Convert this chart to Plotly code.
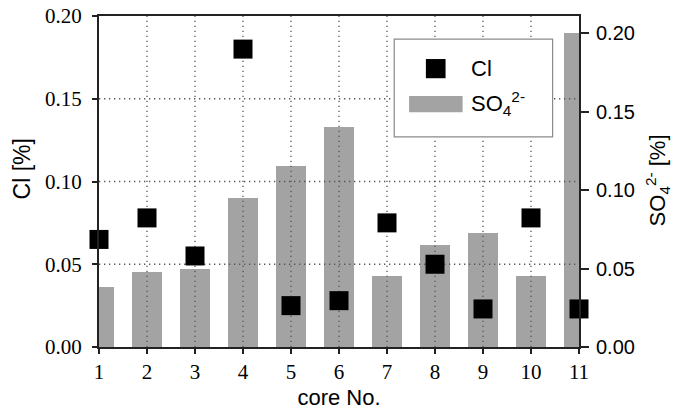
import plotly.graph_objects as go

cores = [1, 2, 3, 4, 5, 6, 7, 8, 9, 10, 11]
cl_values = [0.065, 0.078, 0.055, 0.180, 0.025, 0.028, 0.075, 0.050, 0.023, 0.078, 0.023]
so4_values = [0.038, 0.048, 0.050, 0.095, 0.1155, 0.140, 0.045, 0.065, 0.073, 0.045, 0.200]
x_ticks = [1, 2, 3, 4, 5, 6, 7, 8, 9, 10, 11]
left_ticks = [0.00, 0.05, 0.10, 0.15, 0.20]
right_ticks = [0.00, 0.05, 0.10, 0.15, 0.20]

SERIF = "Liberation Serif, Times New Roman, serif"
SANS = "Liberation Sans, Arial, sans-serif"
AXCOL = "#222222"
GRIDCOL = "#555555"

fig = go.Figure()

# SO4 bars on primary axis (placed on right side)
fig.add_trace(go.Bar(
    x=cores, y=so4_values, yaxis="y", width=0.61,
    marker=dict(color="#a3a3a3", line=dict(width=0)),
    showlegend=False, name="SO4",
))

# grid lines (drawn above bars, below markers), from tick values
inner_x = x_ticks[1:-1]
gx, gy = [], []
for xv in inner_x:
    gx += [xv, xv, None]
    gy += [left_ticks[0], left_ticks[-1], None]
fig.add_trace(go.Scatter(x=gx, y=gy, yaxis="y2", mode="lines",
                         line=dict(color=GRIDCOL, width=1.3, dash="1.3px,3.7px"),
                         hoverinfo="skip", showlegend=False))
hx, hy = [], []
for yv in left_ticks[1:-1]:
    hx += [x_ticks[0], x_ticks[-1], None]
    hy += [yv, yv, None]
fig.add_trace(go.Scatter(x=hx, y=hy, yaxis="y2", mode="lines",
                         line=dict(color=GRIDCOL, width=1.3, dash="1.3px,3.7px"),
                         hoverinfo="skip", showlegend=False))

# Cl markers on secondary axis (placed on left side)
fig.add_trace(go.Scatter(
    x=cores, y=cl_values, yaxis="y2", mode="markers",
    marker=dict(symbol="square", size=19, color="black", line=dict(width=0)),
    cliponaxis=False, showlegend=False, name="Cl",
))

# manual legend
shapes = [
    dict(type="rect", xref="paper", yref="paper", x0=0.615, x1=0.945, y0=0.635, y1=0.930,
         fillcolor="white", line=dict(color="#8a8a8a", width=1.2), layer="above"),
    dict(type="rect", xref="paper", yref="paper", x0=0.681, x1=0.722, y0=0.812, y1=0.870,
         fillcolor="black", line=dict(width=0), layer="above"),
    dict(type="rect", xref="paper", yref="paper", x0=0.646, x1=0.7575, y0=0.709, y1=0.758,
         fillcolor="#a3a3a3", line=dict(width=0), layer="above"),
]
annotations = [
    dict(xref="paper", yref="paper", x=0.771, y=0.840, xanchor="left", yanchor="middle",
         text="Cl", showarrow=False, font=dict(family=SANS, size=22, color="black")),
    dict(xref="paper", yref="paper", x=0.771, y=0.735, xanchor="left", yanchor="middle",
         text="SO<sub>4</sub><sup>2-</sup>", showarrow=False,
         font=dict(family=SANS, size=22, color="black")),
    # axis titles
    dict(xref="paper", yref="paper", x=-0.160, y=0.537, xanchor="center", yanchor="middle",
         textangle=-90, text="Cl [%]", showarrow=False,
         font=dict(family=SANS, size=23, color="black")),
    dict(xref="paper", yref="paper", x=1.163, y=0.504, xanchor="center", yanchor="middle",
         textangle=-90, text="SO<sub>4</sub><sup>2-</sup> [%]", showarrow=False,
         font=dict(family=SANS, size=22, color="black")),
]

fig.update_layout(
    width=673, height=411,
    margin=dict(l=99, r=94, t=16, b=64.3, autoexpand=False),
    paper_bgcolor="white", plot_bgcolor="white",
    bargap=0,
    shapes=shapes, annotations=annotations,
    xaxis=dict(
        range=[1, 11], tickvals=x_ticks, ticktext=[str(v) for v in x_ticks],
        showgrid=False, zeroline=False,
        showline=True, linecolor=AXCOL, linewidth=2, mirror=True,
        ticks="outside", ticklen=5, tickwidth=1.5, tickcolor=AXCOL,
        tickfont=dict(family=SERIF, size=21, color="black"),
        title=dict(text="core No.", font=dict(family=SANS, size=22, color="black"), standoff=6),
    ),
    yaxis=dict(
        side="right", range=[0, 0.2111], tickvals=right_ticks,
        ticktext=["%.2f" % v for v in right_ticks],
        showgrid=False, zeroline=False,
        showline=True, linecolor=AXCOL, linewidth=2,
        ticks="outside", ticklen=8, tickwidth=1.5, tickcolor=AXCOL,
        ticklabelstandoff=3,
        tickfont=dict(family=SANS, size=20, color="black"),
    ),
    yaxis2=dict(
        overlaying="y", side="left", range=[0, 0.2], tickvals=left_ticks,
        ticktext=["%.2f" % v for v in left_ticks],
        showgrid=False, zeroline=False,
        showline=True, linecolor=AXCOL, linewidth=2,
        ticks="outside", ticklen=5, tickwidth=1.5, tickcolor=AXCOL,
        ticklabelstandoff=6,
        tickfont=dict(family=SERIF, size=21, color="black"),
    ),
)

fig.write_html("out.html", config={"displayModeBar": False},
               post_script="document.body.style.margin='0';document.body.style.padding='0';")
